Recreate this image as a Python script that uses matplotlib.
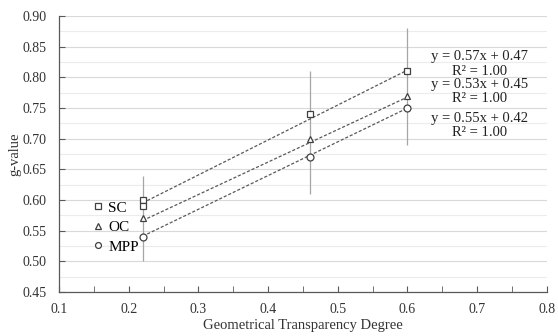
import numpy as np
import matplotlib
matplotlib.use("Agg")
import matplotlib.pyplot as plt
from matplotlib.ticker import MultipleLocator

plt.rcParams['font.family'] = ['Liberation Serif', 'DejaVu Serif']

# Data
x_sc = [0.22, 0.22, 0.46, 0.60]
y_sc = [0.60, 0.59, 0.74, 0.81]
x_oc = [0.22, 0.46, 0.60]
y_oc = [0.57, 0.70, 0.77]
x_mpp = [0.22, 0.46, 0.60]
y_mpp = [0.54, 0.67, 0.75]

series_names = ["SC", "OC", "MPP"]
slopes = [0.57, 0.53, 0.55]
intercepts = [0.47, 0.45, 0.42]
r2_values = [1.00, 1.00, 1.00]
fit_range = [0.22, 0.60]

err_x = [0.22, 0.46, 0.60]
err_low = [0.50, 0.61, 0.69]
err_high = [0.64, 0.81, 0.88]

fig = plt.figure(figsize=(5.58, 3.36), dpi=100)
ax = fig.add_axes([0.106, 0.131, 0.874, 0.821])

ax.set_xlim(0.1, 0.8)
ax.set_ylim(0.45, 0.90)

ax.yaxis.set_major_locator(MultipleLocator(0.05))
ax.yaxis.set_minor_locator(MultipleLocator(0.025))
ax.xaxis.set_major_locator(MultipleLocator(0.1))
ax.xaxis.set_minor_locator(MultipleLocator(0.05))
ax.grid(True, which='major', axis='y', color='#d9d9d9', lw=0.8)
ax.grid(True, which='minor', axis='y', color='#ececec', lw=0.8)
ax.set_axisbelow(True)

for s in ['top', 'right']:
    ax.spines[s].set_visible(False)
for s in ['left', 'bottom']:
    ax.spines[s].set_color('#595959')
    ax.spines[s].set_linewidth(0.9)

ax.tick_params(axis='both', which='both', direction='in', colors='#595959',
               labelcolor='#333333', labelsize=10)
ax.tick_params(axis='both', which='major', length=4)
ax.tick_params(axis='x', which='minor', length=4)
ax.tick_params(axis='y', which='minor', length=0)
ax.tick_params(axis='x', pad=8)
ax.tick_params(axis='y', pad=9)
ax.set_yticks(np.arange(0.45, 0.901, 0.05))
ax.set_yticklabels([f"{v:.2f}" for v in np.arange(0.45, 0.901, 0.05)])
ax.set_xticks(np.arange(0.1, 0.801, 0.1))
ax.set_xticklabels([f"{v:.1f}" for v in np.arange(0.1, 0.801, 0.1)])

# error bars
ax.vlines(err_x, err_low, err_high, color='#a6a6a6', lw=0.9, zorder=2)

# fit lines
xf = np.array(fit_range)
for m, b in zip(slopes, intercepts):
    ax.plot(xf, m * xf + b, ls=(0, (2.5, 1.5)), color='#595959', lw=0.9, zorder=3)

mk = dict(ls='none', mfc='white', mec='#404040', mew=0.9, ms=5, zorder=4)
ax.plot(x_sc, y_sc, marker='s', label=series_names[0], **mk)
ax.plot(x_oc, y_oc, marker='^', label=series_names[1], **mk)
ax.plot(x_mpp, y_mpp, marker='o', label=series_names[2], **mk)

leg = ax.legend(loc='upper left', bbox_to_anchor=(0.058, 0.352), frameon=False,
                fontsize=11, handlelength=0.6, handletextpad=0.35,
                labelspacing=0.38, borderaxespad=0, markerscale=0.85)

# equations
eq_y = [0.822, 0.777, 0.7215]
for m, b, r2, yy in zip(slopes, intercepts, r2_values, eq_y):
    ax.text(0.703, yy, f"y = {m:.2f}x + {b:.2f}\nR² = {r2:.2f}", ha='center',
            va='center', fontsize=10.5, color='#222222', linespacing=1.15)

ax.set_xlabel("Geometrical Transparency Degree", fontsize=10.5, color='#333333', labelpad=2)
ax.set_ylabel("g-value", fontsize=10.5, color='#333333', labelpad=1)

fig.savefig("out.png", dpi=100)
